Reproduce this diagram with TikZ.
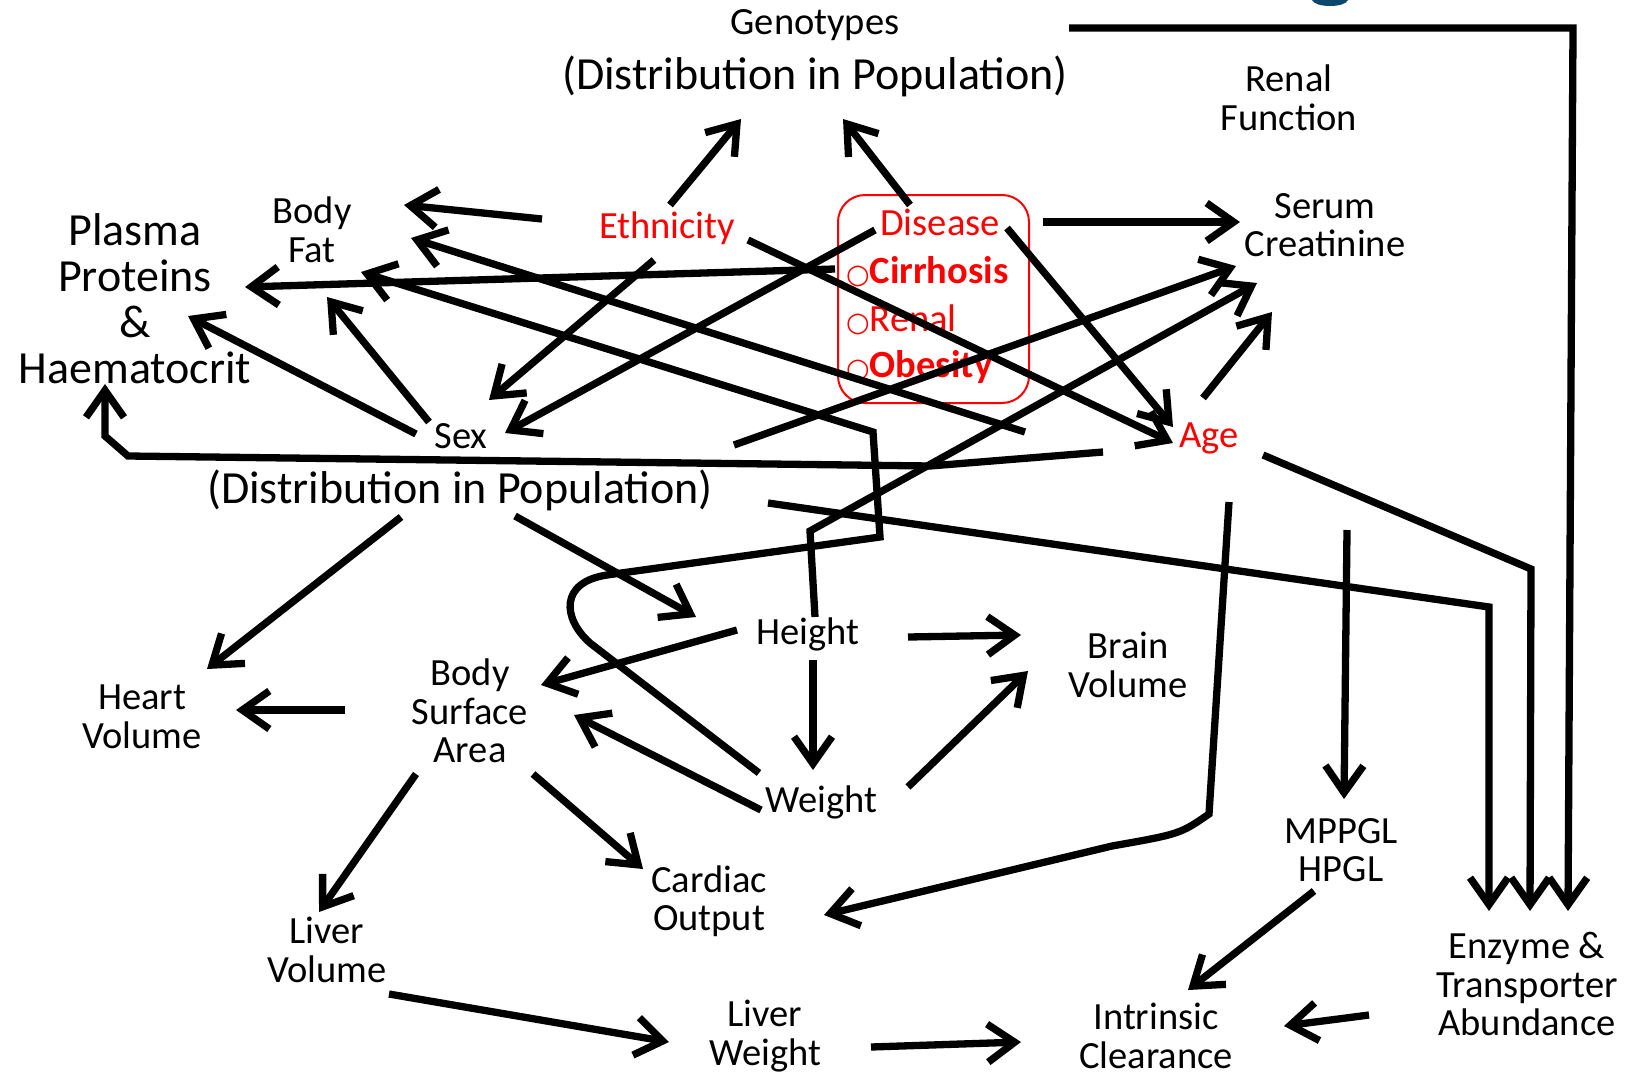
\documentclass[tikz,border=0pt]{standalone}
\usepackage{fontspec}
\setmainfont{Carlito}
\newfontfamily\bulfont{DejaVu Sans}
\usetikzlibrary{arrows.meta,calc}
\definecolor{dred}{RGB}{255,0,0}
\definecolor{blob}{RGB}{12,72,110}
\newcommand\bul{{\bulfont\fontsize{27}{27}\selectfont ○}}
\tikzset{
  lbl/.style={inner sep=0pt, font=\fontsize{38.5}{38.5}\selectfont, align=center},
  big/.style={inner sep=0pt, font=\fontsize{46}{46}\selectfont, align=center},
  redtxt/.style={text=dred},
  dbox/.style={draw=dred, line width=2pt, rounded corners=27pt, minimum width=191pt, minimum height=208pt, inner sep=0pt},
  con/.style={line width=7.3pt, -{Straight Barb[length=27pt,width=38pt]}},
}
\begin{document}
\begin{tikzpicture}[x=1pt,y=-1pt]
\useasboundingbox (0,0) rectangle (1627,1076);
\fill[blob] (1312,0) .. controls (1315,8) and (1345,8) .. (1348,0) -- cycle;

% nodes
\node[lbl] (gen) at (815,25) {Genotypes};
\node[big] (gdist) at (815,76) {(Distribution in Population)};
\node[lbl] (renal) at (1289,98) {Renal\\Function};
\node[lbl] (sc) at (1325,225) {Serum\\Creatinine};
\node[big] (plasma) at (135,299) {Plasma\\Proteins\\\&\\Haematocrit};
\node[lbl] (bfat) at (312,230) {Body\\Fat};
\node[lbl,redtxt] (eth) at (667,228) {Ethnicity};
\node[dbox] (box) at (933.5,299) {};
\node[lbl,redtxt] (dis) at (940,222) {Disease};
\node[lbl,redtxt,anchor=west] (cir) at (846,272) {\bul\textbf{Cirrhosis}};
\node[lbl,redtxt,anchor=west] (ren) at (846,320) {\bul Renal};
\node[lbl,redtxt,anchor=west] (obe) at (846,367) {\bul\textbf{Obesity}};
\node[lbl] (sex) at (461,436) {Sex};
\node[big] (sdist) at (460,490) {(Distribution in Population)};
\node[lbl,redtxt] (age) at (1209,438) {Age};
\node[lbl] (height) at (808,634) {Height};
\node[lbl] (brain) at (1128,665) {Brain\\Volume};
\node[lbl] (heart) at (142,717) {Heart\\Volume};
\node[lbl] (bsa) at (470,711) {Body\\Surface\\Area};
\node[lbl] (weight) at (821,802) {Weight};
\node[lbl] (mppgl) at (1341,850) {MPPGL\\HPGL};
\node[lbl] (cardiac) at (709,901) {Cardiac\\Output};
\node[lbl] (lvol) at (327,950) {Liver\\Volume};
\node[lbl] (enz) at (1527,984) {Enzyme \&\\Transporter\\Abundance};
\node[lbl] (lwt) at (765,1036) {Liver\\Weight};
\node[lbl] (ic) at (1156,1036) {Intrinsic\\Clearance};

% connectors
\draw[con] ($(eth)+(3,-23)$) -- ($(gdist)+(-74,43)$);
\draw[con] ($(dis)+(-30,-17)$) -- ($(gdist)+(28,43)$);
\draw[con] ($(eth)+(-125,-9)$) -- ($(bfat)+(92,-25)$);
\draw[con] ($(dis)+(103,0)$) -- ($(sc)+(-85,-3)$);
\draw[con] ($(dis)+(67,6)$) -- ($(age)+(-36,-11)$);
\draw[con] ($(eth)+(81,12)$) -- ($(age)+(-36,5)$);
\draw[con] ($(age)+(-184,-6)$) -- ($(bfat)+(99,8)$);
\draw[con] ($(weight)+(-62,-29)$) -- (590,643) .. controls (562,618) and (560,582) .. (607,575) -- (880,537) -- (873,432) -- ($(bfat)+(49,42)$);
\draw[con] ($(height)+(7,-17)$) -- (810,531) -- ($(sc)+(-68,58)$);
\draw[con] ($(sdist)+(274,-45)$) -- ($(sc)+(-89,41)$);
\draw[con] ($(age)+(-6,-40)$) -- ($(sc)+(-53,87)$);
\draw[con] ($(dis)+(-65,8)$) -- ($(sex)+(44,-3)$);
\draw[con] ($(eth)+(-13,32)$) -- ($(sex)+(28,-36)$);
\draw[con] ($(box)+(-98.5,-30)$) -- ($(plasma)+(110,-12)$);
\draw[con] ($(sex)+(-45,-2)$) -- ($(plasma)+(53,17)$);
\draw[con] ($(sex)+(-32,-14)$) -- ($(bfat)+(15,67)$);
\draw[con] ($(age)+(-106,14)$) -- (930,466) -- (128,456) -- (105,436) -- ($(plasma)+(-30,85)$);
\draw[con] ($(sdist)+(308,13)$) -- (1489,607) -- ($(enz)+(-38,-73)$);
\draw[con] ($(age)+(54,17)$) -- (1531,569) -- ($(enz)+(3,-73)$);
\draw[con] ($(gen)+(254,3)$) -- (1573,28) -- ($(enz)+(41,-73)$);
\draw[con] ($(age)+(20,64)$) -- (1209,814) .. controls (1180,834) .. (1112,846) -- ($(cardiac)+(115,14)$);
\draw[con] ($(age)+(138,92)$) -- ($(mppgl)+(3,-51)$);
\draw[con] ($(mppgl)+(-27,41)$) -- ($(ic)+(32,-46)$);
\draw[con] ($(enz)+(-158,31)$) -- ($(ic)+(128,-10)$);
\draw[con] ($(lwt)+(106,11)$) -- ($(ic)+(-135,6)$);
\draw[con] ($(lvol)+(62,44)$) -- ($(lwt)+(-96,6)$);
\draw[con] ($(bsa)+(-54,63)$) -- ($(lvol)+(-8,-38)$);
\draw[con] ($(bsa)+(63,63)$) -- ($(cardiac)+(-66,-32)$);
\draw[con] ($(bsa)+(-125,-1)$) -- ($(heart)+(94,-7)$);
\draw[con] ($(weight)+(-60,8)$) -- ($(bsa)+(104,4)$);
\draw[con] ($(height)+(-71,-4)$) -- ($(bsa)+(71,-26)$);
\draw[con] ($(height)+(100,3)$) -- ($(brain)+(-107,-30)$);
\draw[con] ($(weight)+(87,-15)$) -- ($(brain)+(-100,6)$);
\draw[con] ($(height)+(5,26)$) -- ($(weight)+(-8,-32)$);
\draw[con] ($(sdist)+(-59,27)$) -- ($(heart)+(65,-48)$);
\draw[con] ($(sdist)+(55,26)$) -- ($(height)+(-112,-17)$);
\end{tikzpicture}
\end{document}
